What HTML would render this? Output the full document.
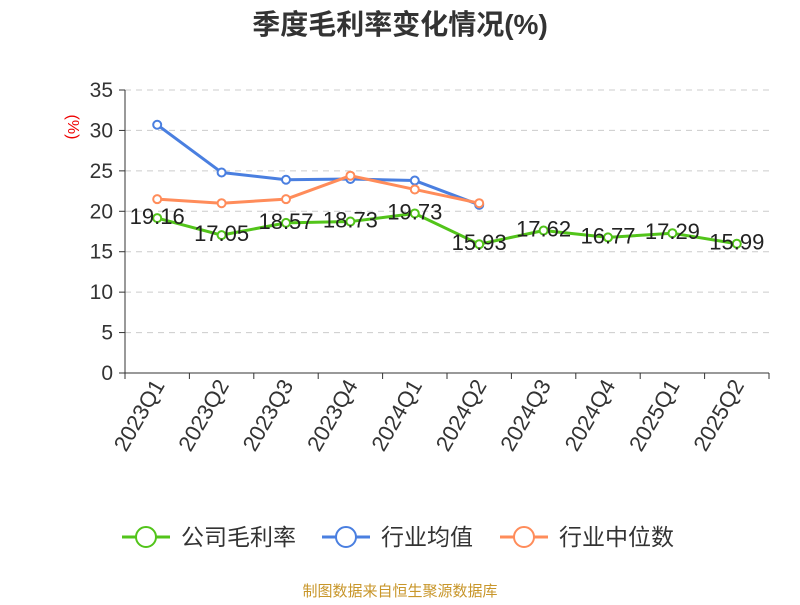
<!DOCTYPE html>
<html><head><meta charset="utf-8">
<style>
body{margin:0;background:#fff;}
svg text{font-family:"Liberation Sans","Noto Sans CJK SC",sans-serif;}
</style></head>
<body>
<svg id="chart" width="800" height="600" xmlns="http://www.w3.org/2000/svg">
<text x="400" y="34" text-anchor="middle" font-size="28" font-weight="bold" fill="#333">季度毛利率变化情况(%)</text>
<text x="68" y="127" font-size="16" fill="#e00" transform="rotate(90 68 127)" text-anchor="middle">(%)</text>
<g id="grid"></g><g id="axes"></g><g id="series"></g>
<g>
 <g>
  <line x1="122" y1="537" x2="170" y2="537" stroke="#52c41a" stroke-width="3"/><circle cx="146" cy="537" r="10" fill="#fff" stroke="#52c41a" stroke-width="2"/>
  <text x="181" y="545" font-size="23" fill="#333">公司毛利率</text></g>
 <g>
  <line x1="322" y1="537" x2="370" y2="537" stroke="#4a7fe0" stroke-width="3"/><circle cx="346" cy="537" r="10" fill="#fff" stroke="#4a7fe0" stroke-width="2"/>
  <text x="381" y="545" font-size="23" fill="#333">行业均值</text></g>
 <g>
  <line x1="500" y1="537" x2="548" y2="537" stroke="#ff8c5a" stroke-width="3"/><circle cx="524" cy="537" r="10" fill="#fff" stroke="#ff8c5a" stroke-width="2"/>
  <text x="559" y="545" font-size="23" fill="#333">行业中位数</text></g>
</g>
<text x="400" y="596" text-anchor="middle" font-size="15" fill="#c8962a">制图数据来自恒生聚源数据库</text>
</svg>
<script>
const categories=["2023Q1","2023Q2","2023Q3","2023Q4","2024Q1","2024Q2","2024Q3","2024Q4","2025Q1","2025Q2"];
const companyValues=[19.16,17.05,18.57,18.73,19.73,15.93,17.62,16.77,17.29,15.99];
const industryAvg=[30.7,24.8,23.9,24.0,23.8,20.8];
const industryMedian=[21.5,21.0,21.5,24.4,22.7,21.0];
const yTicks=[0,5,10,15,20,25,30,35];
const NS="http://www.w3.org/2000/svg";
const L=125,R=769,T=90,B=373,yMax=35;
const bw=(R-L)/categories.length;
const x=i=>L+bw*(i+0.5);
const y=v=>B-(v/yMax)*(B-T);
function mk(tag,attrs,parent){const e=document.createElementNS(NS,tag);for(const k in attrs)e.setAttribute(k,attrs[k]);parent.appendChild(e);return e;}
const grid=document.getElementById('grid'),axes=document.getElementById('axes'),ser=document.getElementById('series');
yTicks.forEach(t=>{
 if(t>0){const g=mk('line',{x1:L,x2:R,y1:y(t),y2:y(t),stroke:'#ccc','stroke-dasharray':'6,5'},grid);
 
 }
 const tk=mk('line',{x1:L-6,x2:L,y1:y(t),y2:y(t),stroke:'#333'},axes);
 
 
 const tx=mk('text',{x:L-12,y:y(t)+7,'text-anchor':'end','font-size':21,fill:'#333'},axes);tx.textContent=t;
 
 
});
const ya=mk('line',{x1:L,x2:L,y1:T,y2:B,stroke:'#333'},axes);


const xa=mk('line',{x1:L,x2:R,y1:B,y2:B,stroke:'#333'},axes);


for(let i=0;i<=categories.length;i++){const tk=mk('line',{x1:L+bw*i,x2:L+bw*i,y1:B,y2:B+6,stroke:'#333'},axes);
 
 }
categories.forEach((c,i)=>{const px=x(i)+8,py=B+12;
 const t=mk('text',{x:px,y:py,'text-anchor':'end','font-size':22,fill:'#333',transform:`rotate(-60 ${px} ${py})`},axes);t.textContent=c;
 
 });
function line(vals,color,name,labels){
 const g=mk('g',{},ser);
 
 
 mk('polyline',{points:vals.map((v,i)=>x(i)+','+y(v)).join(' '),fill:'none',stroke:color,'stroke-width':3,'stroke-linejoin':'round'},g);
 vals.forEach((v,i)=>{const c=mk('circle',{cx:x(i),cy:y(v),r:4,fill:'#fff',stroke:color,'stroke-width':2},g);
  
  
  if(labels){const t=mk('text',{x:x(i),y:y(v)+6,'text-anchor':'middle','font-size':22,fill:'#222'},g);t.textContent=v.toFixed(2);
   
   }});
}
line(industryAvg,'#4a7fe0','industry-avg-series',false);
line(industryMedian,'#ff8c5a','industry-median-series',false);
line(companyValues,'#52c41a','company-series',true);
</script>
</body></html>
